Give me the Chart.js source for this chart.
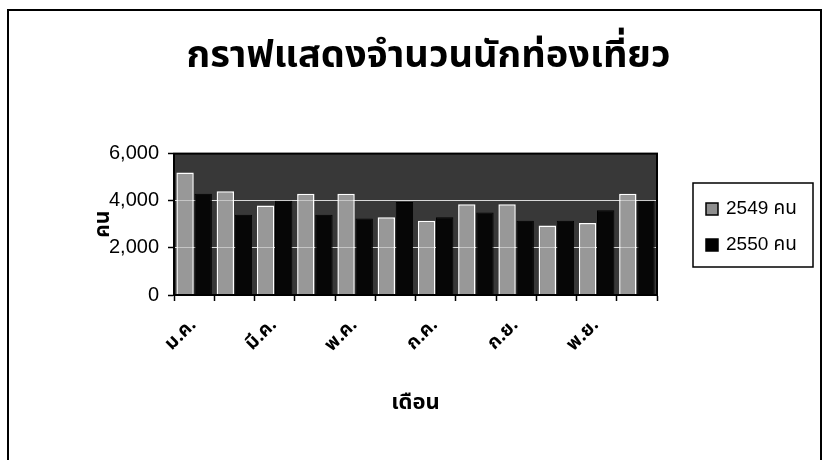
<!DOCTYPE html>
<html>
<head>
<meta charset="utf-8">
<script src="https://cdn.jsdelivr.net/npm/chart.js@4.4.0/dist/chart.umd.min.js"></script>
<style>
  html, body { margin: 0; padding: 0; background: #fff; }
  #wrap { width: 825px; height: 460px; position: relative; }
</style>
</head>
<body>
<div id="wrap"><canvas id="touristChart"></canvas></div>
<script>
// Data
const months = ['ม.ค.', 'ก.พ.', 'มี.ค.', 'เม.ย.', 'พ.ค.', 'มิ.ย.', 'ก.ค.', 'ส.ค.', 'ก.ย.', 'ต.ค.', 'พ.ย.', 'ธ.ค.'];
const visitors2549 = [5200, 4400, 3800, 4300, 4300, 3300, 3150, 3850, 3850, 2950, 3050, 4300];
const visitors2550 = [4300, 3400, 4000, 3400, 3250, 3950, 3300, 3500, 3150, 3150, 3600, 4000];
const yTicks = [0, 2000, 4000, 6000];
const seriesNames = ['2549 คน', '2550 คน'];

const thaiFont = '"Noto Sans Thai", "Noto Sans", "Liberation Sans", sans-serif';
const numFont = '"Liberation Sans", Arial, "Noto Sans Thai", sans-serif';

// grey plot area + frame round it
const plotBackground = {
    id: 'plotBackground',
    beforeDraw(chart) {
        const { ctx, chartArea: a } = chart;
        ctx.save();
        ctx.fillStyle = '#383838';
        ctx.fillRect(a.left, a.top, a.width, a.height);
        ctx.restore();
    },
    afterDatasetsDraw(chart) {
        const { ctx, chartArea: a } = chart;
        ctx.save();
        ctx.strokeStyle = '#000';
        ctx.lineWidth = 2;
        ctx.strokeRect(a.left, a.top, a.width, a.height);
        ctx.restore();
    }
};

// outer border and the boxed legend on the right
const boxLegend = {
    id: 'boxLegend',
    afterDraw(chart) {
        const ctx = chart.ctx;
        ctx.save();
        ctx.strokeStyle = '#000';
        ctx.lineWidth = 2;
        ctx.beginPath();
        ctx.moveTo(8, 470);
        ctx.lineTo(8, 10);
        ctx.lineTo(821, 10);
        ctx.lineTo(821, 470);
        ctx.stroke();

        ctx.lineWidth = 1.5;
        ctx.strokeRect(693, 183, 120, 84);

        chart.data.datasets.forEach((ds, i) => {
            const cy = 209 + i * 36;
            ctx.fillStyle = i === 0 ? '#8f8f8f' : '#000';
            ctx.fillRect(706, cy - 6, 12, 12);
            ctx.strokeStyle = '#000';
            ctx.lineWidth = 1.5;
            ctx.strokeRect(706, cy - 6, 12, 12);
            ctx.fillStyle = '#000';
            ctx.font = '19px ' + numFont;
            ctx.textBaseline = 'middle';
            ctx.textAlign = 'left';
            ctx.fillText(ds.label, 726, cy);
        });
        ctx.restore();
    }
};

const ctx = document.getElementById('touristChart').getContext('2d');

new Chart(ctx, {
    type: 'bar',
    data: {
        labels: months,
        datasets: [{
            label: seriesNames[0],
            data: visitors2549,
            backgroundColor: 'rgba(190,190,190,0.72)',
            borderColor: '#fff',
            borderWidth: 1.5,
            categoryPercentage: 0.9,
            barPercentage: 0.96
        }, {
            label: seriesNames[1],
            data: visitors2550,
            backgroundColor: '#060606',
            borderColor: '#000',
            borderWidth: 1,
            categoryPercentage: 0.9,
            barPercentage: 0.96
        }]
    },
    options: {
        responsive: true,
        maintainAspectRatio: false,
        animation: false,
        layout: { padding: { left: 40, right: 8, top: 10, bottom: 20 } },
        scales: {
            x: {
                grid: { display: true, drawOnChartArea: false, tickLength: 6, tickColor: '#000', tickWidth: 1.5 },
                border: { display: true, color: '#000', width: 2 },
                ticks: {
                    autoSkip: false,
                    minRotation: 45,
                    maxRotation: 45,
                    padding: 14,
                    color: '#000',
                    font: { family: thaiFont, size: 19, weight: 'bold' },
                    callback: function (v, i) { return i % 2 === 0 ? this.getLabelForValue(v) : ''; }
                },
                title: {
                    display: true,
                    text: 'เดือน',
                    color: '#000',
                    font: { family: thaiFont, size: 22, weight: 'bold' },
                    padding: { top: 0, bottom: 22 }
                },
                afterFit(s) { s.height = 145; }
            },
            y: {
                min: 0,
                max: 6000,
                afterBuildTicks(s) { s.ticks = yTicks.map(v => ({ value: v })); },
                grid: { color: '#d8d8d8', lineWidth: 1, tickLength: 6, tickColor: '#000', tickWidth: 1.5 },
                border: { color: '#000', width: 2 },
                ticks: {
                    padding: 9,
                    color: '#000',
                    font: { family: numFont, size: 20 },
                    callback: v => v.toLocaleString('en-US')
                },
                title: {
                    display: true,
                    text: 'คน',
                    color: '#000',
                    font: { family: thaiFont, size: 21, weight: 'bold' },
                    padding: { top: 52, bottom: 0 }
                },
                afterFit(s) { s.width = 134; }
            },
            // empty right-hand axis, keeps room for the legend box
            yRight: {
                position: 'right',
                grid: { display: false },
                border: { display: false },
                ticks: { display: false },
                afterFit(s) { s.width = 160; }
            }
        },
        plugins: {
            legend: { display: false },
            tooltip: { enabled: false },
            title: {
                display: true,
                text: 'กราฟแสดงจำนวนนักท่องเที่ยว',
                color: '#000',
                font: { family: thaiFont, size: 38, weight: 'bold' },
                padding: { top: 27, bottom: 71 }
            }
        }
    },
    plugins: [plotBackground, boxLegend]
});
</script>
</body>
</html>
